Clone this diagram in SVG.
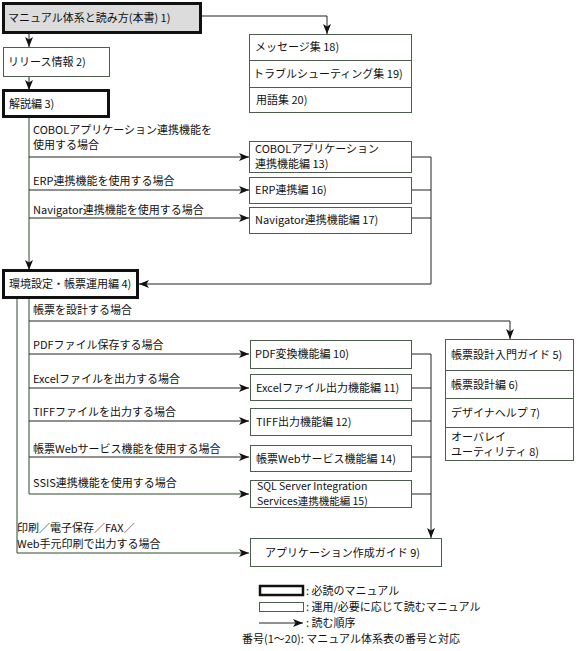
<svg xmlns="http://www.w3.org/2000/svg" width="578" height="651" viewBox="0 0 578 651">
<style>
text{font-family:"Noto Sans CJK JP","Liberation Sans",sans-serif;font-size:11px;fill:#111}
.sm{font-size:10.5px}
.thick{fill:#fff;stroke:#111;stroke-width:3}
.thin{fill:#fff;stroke:#4e5e4e;stroke-width:1}
.ln{fill:none;stroke:#222;stroke-width:1}
.lg{fill:none;stroke:#2f4a2f;stroke-width:1}
</style>
<defs>
<marker id="ah" markerUnits="userSpaceOnUse" markerWidth="10" markerHeight="8" refX="10" refY="4" orient="auto">
<path d="M0,0 L10,4 L0,8 L2.5,4 Z" fill="#111"/>
</marker>
</defs>
<rect width="578" height="651" fill="#fff"/>

<g id="connectors">
<path class="ln" d="M29,33 V47" marker-end="url(#ah)"/>
<path class="ln" d="M29,76 V90" marker-end="url(#ah)"/>
<path class="ln" d="M201,16 H327 V34" marker-end="url(#ah)"/>
<path class="lg" d="M29,117 V270" marker-end="url(#ah)"/>
<path class="ln" d="M29,157 H249" marker-end="url(#ah)"/>
<path class="ln" d="M29,190 H249" marker-end="url(#ah)"/>
<path class="ln" d="M29,218 H249" marker-end="url(#ah)"/>
<path class="ln" d="M412,157 H431 V284 H139" marker-end="url(#ah)"/>
<path class="ln" d="M412,190 H431 M412,218 H431"/>
<path class="lg" d="M29,298 V494 H249" marker-end="url(#ah)"/>
<path class="ln" d="M29,321 H510 V339" marker-end="url(#ah)"/>
<path class="ln" d="M29,354 H249" marker-end="url(#ah)"/>
<path class="ln" d="M29,388 H249" marker-end="url(#ah)"/>
<path class="ln" d="M29,421 H249" marker-end="url(#ah)"/>
<path class="ln" d="M29,457 H249" marker-end="url(#ah)"/>
<path class="lg" d="M17,298 V553 H249" marker-end="url(#ah)"/>
<path class="ln" d="M412,354 H431 V538" marker-end="url(#ah)"/>
<path class="ln" d="M412,388 H431 M412,421 H431 M412,457 H431 M412,494 H431"/>
</g>

<g id="n1">
<rect x="3.5" y="3.5" width="197" height="29" fill="#dcdcdc" stroke="#111" stroke-width="3"/>
<text x="8" y="22">マニュアル体系と読み方(本書) 1)</text>
</g>
<g id="n2">
<rect class="thin" x="3.5" y="47.5" width="106" height="29"/>
<text x="8" y="66">リリース情報 2)</text>
</g>
<g id="n3">
<rect class="thick" x="3.5" y="90.5" width="105" height="26"/>
<text x="9" y="108">解説編 3)</text>
</g>
<g id="n18-20">
<rect class="thin" x="249.5" y="34.5" width="162" height="78"/>
<line class="thin" x1="249.5" y1="60.5" x2="411.5" y2="60.5"/>
<line class="thin" x1="249.5" y1="87.5" x2="411.5" y2="87.5"/>
<text x="255" y="51">メッセージ集 18)</text>
<text x="253" y="78">トラブルシューティング集 19)</text>
<text x="256" y="104">用語集 20)</text>
</g>

<text x="33" y="134">COBOLアプリケーション連携機能を</text>
<text x="33" y="149">使用する場合</text>
<text x="33" y="185">ERP連携機能を使用する場合</text>
<text x="33" y="214">Navigator連携機能を使用する場合</text>

<g id="n13">
<rect class="thin" x="249.5" y="141.5" width="162" height="31"/>
<text x="255" y="153">COBOLアプリケーション</text>
<text x="255" y="168">連携機能編 13)</text>
</g>
<g id="n16">
<rect class="thin" x="249.5" y="177.5" width="162" height="26"/>
<text x="255" y="194">ERP連携編 16)</text>
</g>
<g id="n17">
<rect class="thin" x="249.5" y="207.5" width="162" height="26"/>
<text x="255" y="224">Navigator連携機能編 17)</text>
</g>

<g id="n4">
<rect class="thick" x="3.5" y="270.5" width="134" height="27"/>
<text x="9" y="288">環境設定・帳票運用編 4)</text>
</g>

<text x="33" y="314">帳票を設計する場合</text>
<text x="33" y="349">PDFファイル保存する場合</text>
<text x="33" y="383">Excelファイルを出力する場合</text>
<text x="33" y="416">TIFFファイルを出力する場合</text>
<text x="33" y="453">帳票Webサービス機能を使用する場合</text>
<text x="33" y="487">SSIS連携機能を使用する場合</text>
<text x="17" y="532">印刷／電子保存／FAX／</text>
<text x="17" y="548">Web手元印刷で出力する場合</text>

<g id="n10">
<rect class="thin" x="250.5" y="340.5" width="161" height="28"/>
<text x="255" y="358">PDF変換機能編 10)</text>
</g>
<g id="n11">
<rect class="thin" x="250.5" y="374.5" width="161" height="26"/>
<text x="256" y="392">Excelファイル出力機能編 11)</text>
</g>
<g id="n12">
<rect class="thin" x="250.5" y="408.5" width="161" height="27"/>
<text x="256" y="426">TIFF出力機能編 12)</text>
</g>
<g id="n14">
<rect class="thin" x="250.5" y="445.5" width="161" height="26"/>
<text x="256" y="463">帳票Webサービス機能編 14)</text>
</g>
<g id="n15">
<rect class="thin" x="250.5" y="480.5" width="161" height="27"/>
<text class="sm" x="257" y="490">SQL Server Integration</text>
<text class="sm" x="257" y="505">Services連携機能編 15)</text>
</g>

<g id="n5-8">
<rect class="thin" x="445.5" y="339.5" width="128" height="121"/>
<line class="thin" x1="445.5" y1="370.5" x2="573.5" y2="370.5"/>
<line class="thin" x1="445.5" y1="398.5" x2="573.5" y2="398.5"/>
<line class="thin" x1="445.5" y1="427.5" x2="573.5" y2="427.5"/>
<text x="451" y="359">帳票設計入門ガイド 5)</text>
<text x="451" y="389">帳票設計編 6)</text>
<text x="451" y="417">デザイナヘルプ 7)</text>
<text x="451" y="441">オーバレイ</text>
<text x="451" y="456">ユーティリティ 8)</text>
</g>

<g id="n9">
<rect class="thin" x="250.5" y="538.5" width="191" height="28"/>
<text x="265" y="557">アプリケーション作成ガイド 9)</text>
</g>

<g id="legend">
<rect x="260" y="586" width="43" height="9" fill="#fff" stroke="#111" stroke-width="2.5"/>
<text x="306" y="595">: 必読のマニュアル</text>
<rect class="thin" x="259.5" y="602.5" width="44" height="9"/>
<text x="306" y="611">: 運用/必要に応じて読むマニュアル</text>
<path class="ln" d="M259,623 H303" marker-end="url(#ah)"/>
<text x="306" y="627">: 読む順序</text>
<text x="242" y="643">番号(1～20): マニュアル体系表の番号と対応</text>
</g>
</svg>
